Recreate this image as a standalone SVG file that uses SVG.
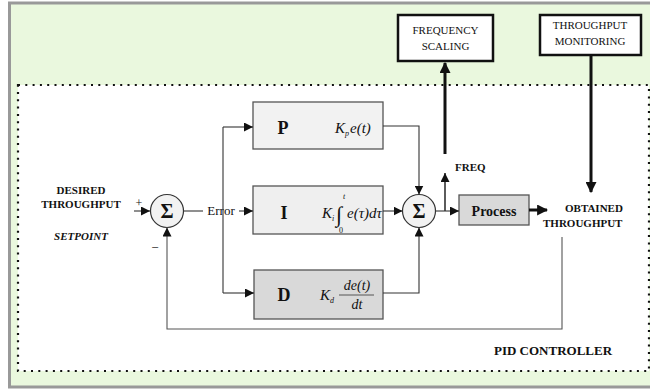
<svg xmlns="http://www.w3.org/2000/svg" width="650" height="390" viewBox="0 0 650 390">
<defs>
<style>
.lbl{font-family:"Liberation Serif","Times New Roman","DejaVu Serif",serif;fill:#111}
.b{font-weight:bold}
.it{font-style:italic}
.box{stroke:#555;stroke-width:1.3}
.thin{fill:none;stroke:#333;stroke-width:1.1}
.thick{fill:none;stroke:#111;stroke-width:3}
.sum{fill:#f2f2f2;stroke:#333;stroke-width:1.2}
</style>
<marker id="ah" viewBox="0 0 10 10" refX="10" refY="5" markerWidth="9" markerHeight="9" markerUnits="userSpaceOnUse" orient="auto"><path d="M0,0 L10,5 L0,10 z" fill="#111"/></marker>
<marker id="ahb" viewBox="0 0 10 10" refX="9" refY="5" markerWidth="11" markerHeight="11" markerUnits="userSpaceOnUse" orient="auto"><path d="M0,0 L10,5 L0,10 z" fill="#111"/></marker>
</defs>
<rect x="9.5" y="3" width="650" height="384" fill="#eaf8de" stroke="#999" stroke-width="3"/>
<rect x="18" y="85" width="631" height="286" fill="#fff" stroke="#111" stroke-width="2.2" stroke-dasharray="2 5.3"/>

<g id="freq-scaling"><rect x="398" y="15" width="95" height="46" fill="#fff" stroke="#111" stroke-width="2.5"/>
<text class="lbl" x="445.5" y="34" font-size="11" text-anchor="middle">FREQUENCY</text>
<text class="lbl" x="445.5" y="50" font-size="11" text-anchor="middle">SCALING</text></g>
<g id="tp-monitoring"><rect x="540" y="15" width="101" height="40" fill="#fff" stroke="#111" stroke-width="2.5"/>
<text class="lbl" x="590" y="29" font-size="11" text-anchor="middle">THROUGHPUT</text>
<text class="lbl" x="590" y="45" font-size="11" text-anchor="middle">MONITORING</text></g>

<g id="setpoint">
<text class="lbl b" x="81" y="194" font-size="11" text-anchor="middle">DESIRED</text>
<text class="lbl b" x="81" y="208" font-size="11" text-anchor="middle">THROUGHPUT</text>
<text class="lbl b it" x="81" y="240" font-size="11" text-anchor="middle">SETPOINT</text>
<text class="lbl" x="139" y="207" font-size="12" text-anchor="middle">+</text>
<text class="lbl" x="155" y="252" font-size="13" text-anchor="middle">−</text>
</g>
<g id="sum1"><circle cx="167" cy="211" r="16.5" class="sum"/>
<text class="lbl b" x="167" y="218" font-size="20" text-anchor="middle">Σ</text></g>
<g id="sum2"><circle cx="419" cy="211" r="16.5" class="sum"/>
<text class="lbl b" x="419" y="218" font-size="20" text-anchor="middle">Σ</text></g>

<g id="p-block"><rect x="253" y="102" width="130" height="47" fill="#f2f2f2" class="box"/>
<text class="lbl b" x="283" y="134" font-size="18" text-anchor="middle">P</text>
<text class="lbl it" x="335" y="133" font-size="15">K</text>
<text class="lbl it" x="345" y="136" font-size="8">p</text>
<text class="lbl it" x="350" y="133" font-size="15">e(t)</text></g>
<g id="i-block"><rect x="253" y="186" width="130" height="48" fill="#efefef" class="box"/>
<text class="lbl b" x="284" y="219" font-size="18" text-anchor="middle">I</text>
<text class="lbl it" x="322" y="218" font-size="15">K</text>
<text class="lbl it" x="332" y="221" font-size="8">i</text>
<text class="lbl" x="336" y="222" font-size="22">∫</text>
<text class="lbl it" x="343" y="199" font-size="8">t</text>
<text class="lbl" x="339" y="233" font-size="8">0</text>
<text class="lbl it" x="347" y="218" font-size="15">e(τ)dτ</text></g>
<g id="d-block"><rect x="254" y="270" width="129" height="49" fill="#d9d9d9" class="box"/>
<text class="lbl b" x="284" y="301" font-size="18" text-anchor="middle">D</text>
<text class="lbl it" x="320" y="300" font-size="15">K</text>
<text class="lbl it" x="330" y="303" font-size="8">d</text>
<text class="lbl it" x="357" y="290" font-size="14" text-anchor="middle">de(t)</text>
<line x1="339" y1="295" x2="374" y2="295" stroke="#333" stroke-width="0.8"/>
<text class="lbl it" x="357" y="309" font-size="14" text-anchor="middle">dt</text></g>

<g id="process"><rect x="459" y="195" width="70" height="30" fill="#d9d9d9" class="box"/>
<text class="lbl b" x="494" y="215.5" font-size="14" text-anchor="middle">Process</text></g>

<g id="labels">
<text class="lbl" x="221" y="215" font-size="13" text-anchor="middle">Error</text>
<text class="lbl b" x="455" y="171" font-size="11">FREQ</text>
<text class="lbl b" x="565" y="212" font-size="11">OBTAINED</text>
<text class="lbl b" x="543" y="227" font-size="11">THROUGHPUT</text>
<text class="lbl b" x="553" y="355" font-size="13" text-anchor="middle">PID CONTROLLER</text>
</g>

<g id="connectors">
<path class="thin" d="M134,211 H150" marker-end="url(#ah)"/>
<path class="thin" d="M184,211 H203"/>
<path class="thin" d="M239,211 H253" marker-end="url(#ah)"/>
<path class="thin" d="M223,127 V293"/>
<path class="thin" d="M223,127 H253" marker-end="url(#ah)"/>
<path class="thin" d="M223,293 H254" marker-end="url(#ah)"/>
<path class="thin" d="M383,126 H419 V194.5" marker-end="url(#ah)"/>
<path class="thin" d="M383,211 H402.5" marker-end="url(#ah)"/>
<path class="thin" d="M383,293 H419 V227.5" marker-end="url(#ah)"/>
<path class="thin" d="M435.5,211 H459" marker-end="url(#ah)"/>
<path class="thin" d="M445,211 V173" marker-end="url(#ah)" style="stroke-width:1.6"/>
<path class="thick" d="M445,154 V63" marker-end="url(#ahb)"/>
<path class="thick" d="M591,56 V192" marker-end="url(#ahb)"/>
<path class="thick" d="M529,210 H547" marker-end="url(#ahb)"/>
<path class="thin" d="M562,237 V329 H167 V227.5" marker-end="url(#ah)" style="stroke:#555"/>
</g>
</svg>
